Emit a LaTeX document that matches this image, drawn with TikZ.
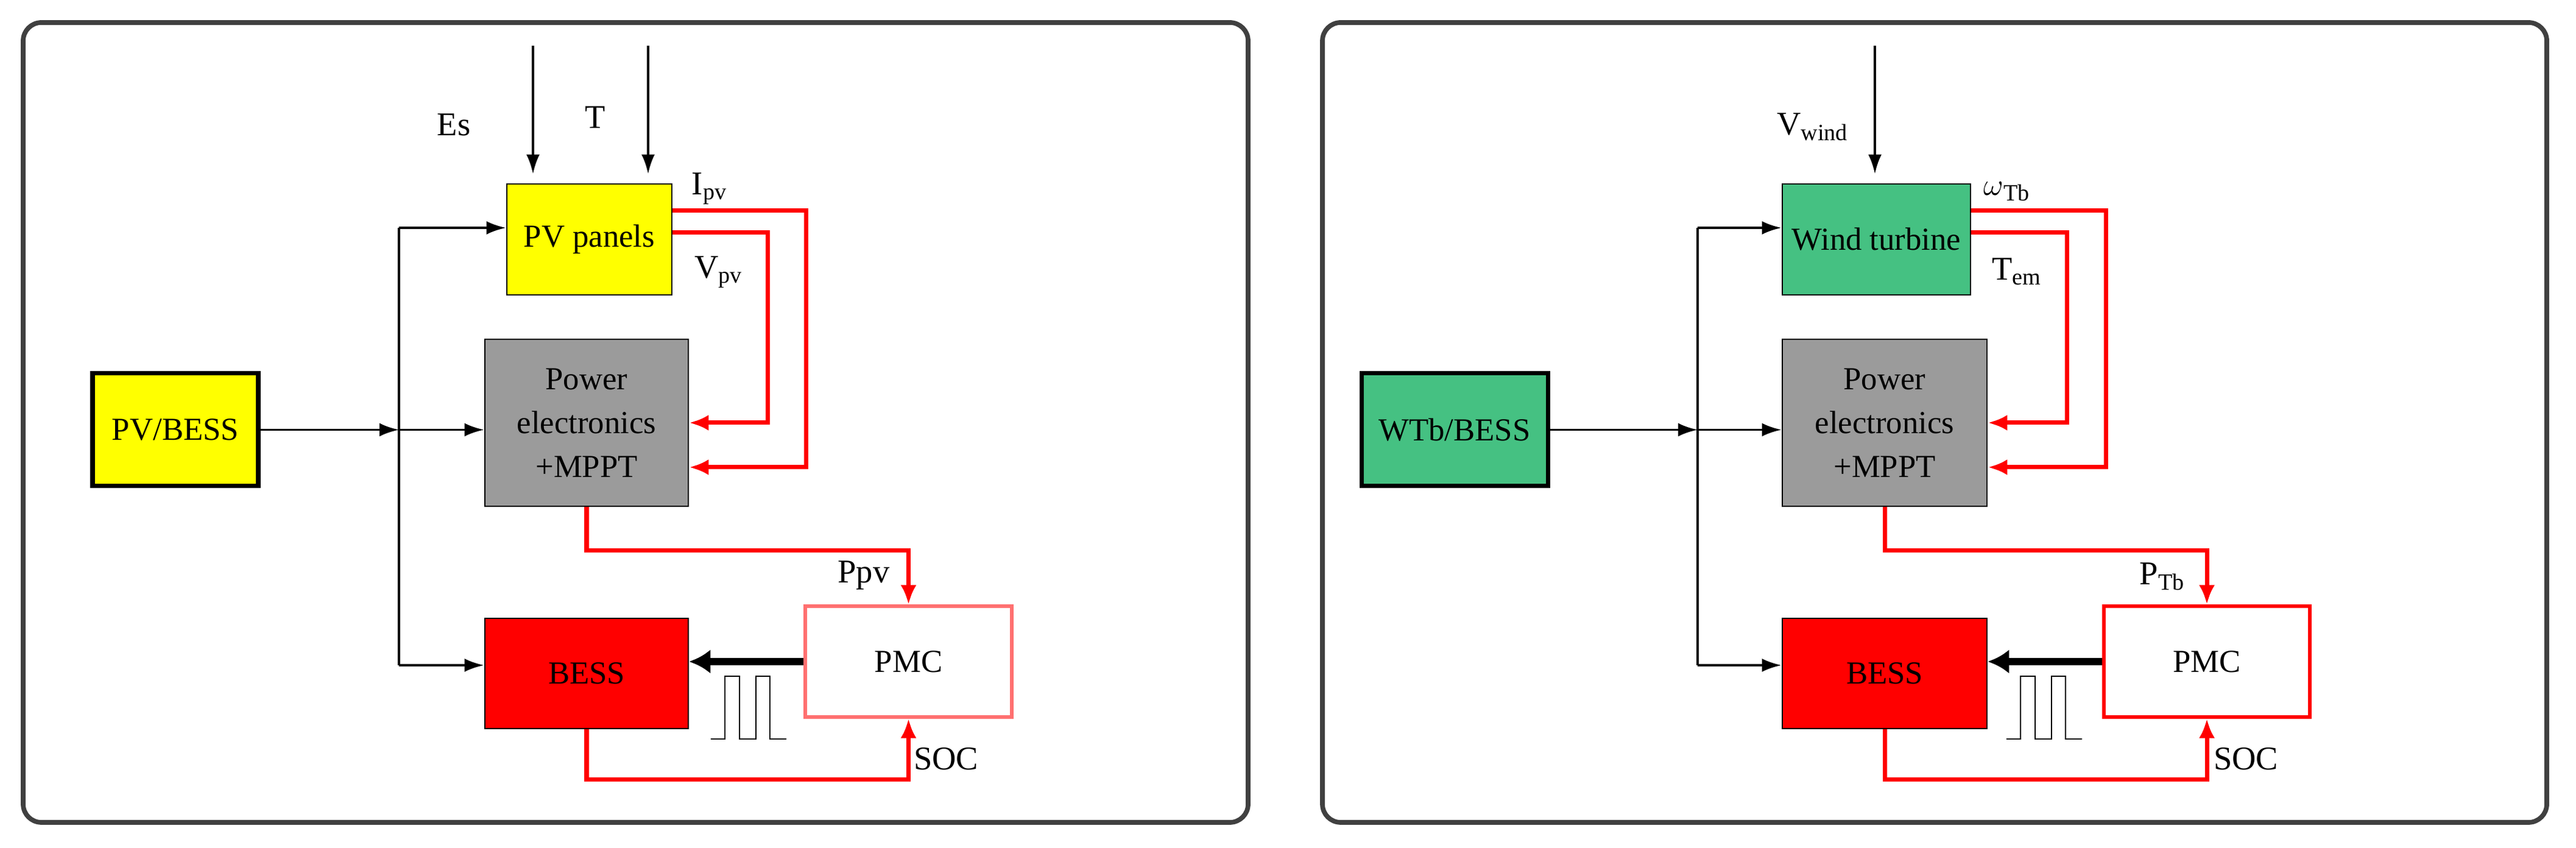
\documentclass[tikz,border=0pt]{standalone}
\usepackage{fontspec}
\setmainfont{Liberation Serif}
\usetikzlibrary{arrows.meta}
\definecolor{pvyellow}{HTML}{FFFF00}
\definecolor{wtgreen}{HTML}{45C182}
\definecolor{pegray}{HTML}{9B9B9B}
\definecolor{framegray}{HTML}{404040}
\definecolor{pmcpink}{HTML}{FF7070}
\newcommand{\pulsetrain}[3]{%
  \draw[thick] (#1,#2) -- ++(0.23,0) -- ++(0,#3) -- ++(0.24,0) -- ++(0,-#3) -- ++(0.27,0)
    -- ++(0,#3) -- ++(0.23,0) -- ++(0,-#3) -- ++(0.27,0);}
\tikzset{
  panel/.style={draw=framegray, line width=2.2pt, rounded corners=0.3cm},
  block/.style={draw=black, thick, align=center, inner sep=0pt,
    font=\rmfamily\fontsize{15}{20.5}\selectfont},
  flow/.style={-{Latex[length=0.32cm,width=0.22cm]}, line width=1.1pt},
  sig/.style={-{Latex[length=0.32cm,width=0.26cm]}, red, line width=2pt},
  cmd/.style={-{Latex[length=0.35cm,width=0.4cm]}, line width=3.5pt},
  lab/.style={font=\rmfamily\fontsize{15.5}{20}\selectfont}
}
\begin{document}
\begin{tikzpicture}
  \useasboundingbox (0,0) rectangle (42.29,13.92);

  % Frames
  \draw[panel] (0.38,0.42) rectangle (20.49,13.55);
  \draw[panel] (21.71,0.42) rectangle (41.81,13.55);

  % ---------------- PV side ----------------
  \node[block, fill=pvyellow, line width=2pt, minimum width=2.72cm, minimum height=1.85cm] (pvb) at (2.88,6.865) {PV/BESS};
  \node[block, fill=pvyellow, minimum width=2.71cm, minimum height=1.82cm] (pv) at (9.675,9.99) {PV panels};
  \node[block, fill=pegray, minimum width=3.34cm, minimum height=2.74cm] (pe) at (9.63,6.98) {Power\\electronics\\+MPPT};
  \node[block, fill=red, minimum width=3.34cm, minimum height=1.81cm] (bess) at (9.63,2.865) {BESS};
  \node[block, draw=pmcpink, line width=1.5pt, minimum width=3.39cm, minimum height=1.82cm] (pmc) at (14.915,3.06) {PMC};

  % Bus
  \coordinate (busL) at (6.55,6.865);
  \coordinate (busLt) at (6.55,10.18);
  \coordinate (busLb) at (6.55,3.00);
  \draw[flow] (pvb.east) -- (busL);
  \draw[line width=1.1pt] (busLt) -- (busLb);
  \draw[flow] (busLt) -- (busLt -| pv.west);
  \draw[flow] (busL) -- (busL -| pe.west);
  \draw[flow] (busLb) -- (busLb -| bess.west);

  % Inputs
  \coordinate (esL) at (8.75,13.17);
  \coordinate (tL) at (10.64,13.17);
  \draw[flow, shorten >=0.15cm] (esL) -- (esL |- pv.north);
  \draw[flow, shorten >=0.15cm] (tL) -- (tL |- pv.north);
  \node[lab] (es) at (7.45,11.87) {Es};
  \node[lab] (t) at (9.77,11.99) {T};

  % Feedback
  \draw[sig] ([yshift=-0.45cm]pv.north east) -- ++(2.19,0) |- ([yshift=-0.73cm]pe.east);
  \draw[sig] ([yshift=-0.81cm]pv.north east) -- ++(1.56,0) |- (pe.east);
  \node[lab] (ipv) at (11.65,10.82) {I\textsubscript{pv}};
  \node[lab] (vpv) at (11.80,9.45) {V\textsubscript{pv}};
  \draw[sig] (pe.south) -- ++(0,-0.71) -| (pmc.north);
  \node[lab] (ppv) at (14.18,4.48) {Ppv};
  \draw[sig] (bess.south) -- ++(0,-0.82) -| (pmc.south);
  \node[lab] (socL) at (15.53,1.46) {SOC};
  \draw[cmd] (pmc.west) -- (pmc.west -| bess.east);
  \pulsetrain{11.67}{1.79}{1.03}

  % ---------------- Wind side ----------------
  \node[block, fill=wtgreen, line width=2pt, minimum width=3.06cm, minimum height=1.85cm] (wtb) at (23.88,6.865) {WTb/BESS};
  \node[block, fill=wtgreen, minimum width=3.09cm, minimum height=1.82cm] (wt) at (30.805,9.99) {Wind turbine};
  \node[block, fill=pegray, minimum width=3.36cm, minimum height=2.74cm] (pe2) at (30.94,6.98) {Power\\electronics\\+MPPT};
  \node[block, fill=red, minimum width=3.36cm, minimum height=1.81cm] (bess2) at (30.94,2.865) {BESS};
  \node[block, draw=red, line width=1.5pt, minimum width=3.38cm, minimum height=1.82cm] (pmc2) at (36.23,3.06) {PMC};

  % Bus
  \coordinate (busR) at (27.87,6.865);
  \coordinate (busRt) at (27.87,10.18);
  \coordinate (busRb) at (27.87,3.00);
  \draw[flow] (wtb.east) -- (busR);
  \draw[line width=1.1pt] (busRt) -- (busRb);
  \draw[flow] (busRt) -- (busRt -| wt.west);
  \draw[flow] (busR) -- (busR -| pe2.west);
  \draw[flow] (busRb) -- (busRb -| bess2.west);

  % Input
  \coordinate (vwR) at (30.78,13.17);
  \draw[flow, shorten >=0.15cm] (vwR) -- (vwR |- wt.north);
  \node[lab] (vw) at (29.76,11.84) {V\textsubscript{wind}};

  % Feedback
  \draw[sig] ([yshift=-0.45cm]wt.north east) -- ++(2.21,0) |- ([yshift=-0.73cm]pe2.east);
  \draw[sig] ([yshift=-0.81cm]wt.north east) -- ++(1.57,0) |- (pe2.east);
  \node[lab] (om) at (32.95,10.78) {$\omega$\textsubscript{Tb}};
  \node[lab] (tem) at (33.11,9.46) {T\textsubscript{em}};
  \draw[sig] (pe2.south) -- ++(0,-0.71) -| (pmc2.north);
  \node[lab] (ptb) at (35.50,4.46) {P\textsubscript{Tb}};
  \draw[sig] (bess2.south) -- ++(0,-0.82) -| (pmc2.south);
  \node[lab] (socR) at (36.87,1.46) {SOC};
  \draw[cmd] (pmc2.west) -- (pmc2.west -| bess2.east);
  \pulsetrain{32.94}{1.79}{1.03}
\end{tikzpicture}
\end{document}
